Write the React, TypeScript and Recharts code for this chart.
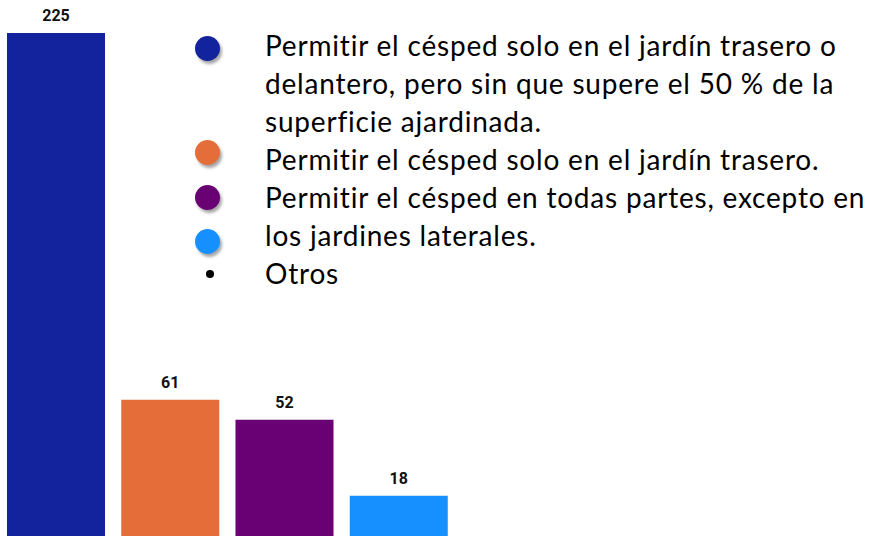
import React from 'react';
import { BarChart, Bar, XAxis, YAxis, Cell, LabelList, Legend } from 'recharts';

const categories = ['Jardín trasero o delantero (≤50 %)', 'Solo jardín trasero', 'Todas partes excepto laterales', 'Otros'];
const votes = [225, 61, 52, 18];
const barColors = ['#13239D', '#E56D39', '#690073', '#1590FE'];

const legendLines = [
  'Permitir el césped solo en el jardín trasero o',
  'delantero, pero sin que supere el 50 % de la',
  'superficie ajardinada.',
  'Permitir el césped solo en el jardín trasero.',
  'Permitir el césped en todas partes, excepto en',
  'los jardines laterales.',
  'Otros',
];
const bulletColors = ['#13239D', '#E56D39', '#690073', '#1590FE', '#000000'];
const bulletTops = [48, 152, 197, 241, 274];

const data = categories.map((c, i) => ({ name: c, value: votes[i] }));

const renderLegend = () => (
  <div style={{ position: 'relative', width: 870, height: 536, fontFamily: 'Lato, sans-serif', color: '#000' }}>
    {bulletColors.map((col, i) => {
      const small = i === bulletColors.length - 1;
      const r = small ? 4 : 12.5;
      return (
        <div
          key={i}
          style={{
            position: 'absolute',
            left: (small ? 210 : 207) - r,
            top: bulletTops[i] - r,
            width: r * 2,
            height: r * 2,
            borderRadius: '50%',
            background: col,
            boxShadow: small ? 'none' : '2px 3px 3px rgba(0,0,0,0.35)',
          }}
        />
      );
    })}
    <div
      style={{
        position: 'absolute',
        left: 265,
        top: 26,
        fontSize: 28,
        letterSpacing: 0.8,
        lineHeight: '38px',
        whiteSpace: 'nowrap',
      }}
    >
      {legendLines.map((l, i) => (
        <div key={i}>{l}</div>
      ))}
    </div>
  </div>
);

export default function App() {
  return (
    <div style={{ position: 'absolute', left: 0, top: 0, width: 870, height: 536, background: '#fff' }}>
      <BarChart
        width={870}
        height={536}
        data={data}
        margin={{ top: 33, right: 414, bottom: 0, left: -1 }}
      >
        <XAxis dataKey="name" hide />
        <YAxis hide domain={[0, 225]} />
        <Legend
          content={renderLegend}
          layout="vertical"
          align="center"
          verticalAlign="middle"
          wrapperStyle={{ left: 0, top: 0, width: 870, height: 536, pointerEvents: 'none' }}
        />
        <Bar dataKey="value" barSize={98} isAnimationActive={false}>
          {data.map((d, i) => (
            <Cell key={d.name} fill={barColors[i]} />
          ))}
          <LabelList
            dataKey="value"
            position="top"
            offset={12}
            style={{ fontFamily: 'Roboto, sans-serif', fontWeight: 700, fontSize: 16, fill: '#111' }}
          />
        </Bar>
      </BarChart>
    </div>
  );
}
